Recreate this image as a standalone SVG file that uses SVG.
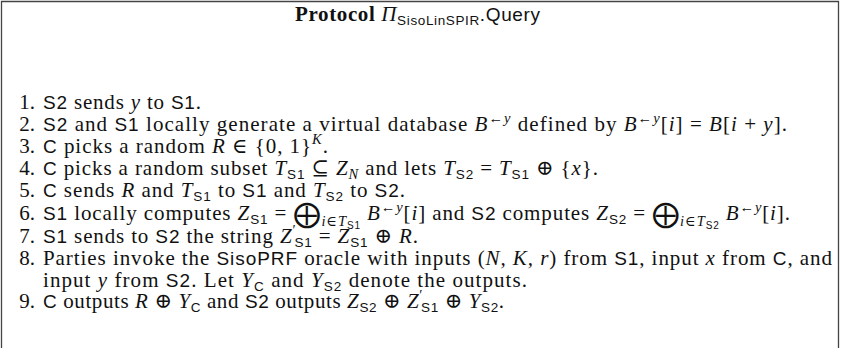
<svg xmlns="http://www.w3.org/2000/svg" width="841" height="348" viewBox="0 0 841 348">
<style>
.t{font-family:"Liberation Serif","DejaVu Serif",serif;font-size:21px;fill:#111}
.b{font-weight:bold}
.it{font-style:italic}
.sf{font-family:"Liberation Sans","DejaVu Sans",sans-serif;font-size:19px}
.s{font-family:"Liberation Sans","DejaVu Sans",sans-serif;font-size:13.5px}
.ss{font-family:"Liberation Sans","DejaVu Sans",sans-serif;font-size:10px}
.sm{font-size:14.5px}
.big{font-family:"DejaVu Sans",sans-serif;font-size:27px}
.frame{fill:none;stroke:#444;stroke-width:1.3}
</style>
<rect width="841" height="348" fill="#fff"/>
<g id="frame"><path class="frame" d="M1.5,348 V1.5 H838.5 V348"/></g>
<g id="title">
<text class="t" x="295" y="21" textLength="245" lengthAdjust="spacing"><tspan class="b">Protocol </tspan><tspan class="it">Π</tspan><tspan class="s" dy="4">SisoLinSPIR</tspan><tspan class="sf" dy="-4">.Query</tspan></text>
</g>
<g id="numbers" class="t" text-anchor="end">
<text x="35" y="109">1.</text>
<text x="35" y="131">2.</text>
<text x="35" y="153">3.</text>
<text x="35" y="175">4.</text>
<text x="35" y="197">5.</text>
<text x="35" y="220">6.</text>
<text x="35" y="243">7.</text>
<text x="35" y="265">8.</text>
<text x="35" y="308">9.</text>
</g>
<g id="steps" class="t">
<text id="s1" x="43" y="109" textLength="158" lengthAdjust="spacing"><tspan class="sf">S2</tspan> sends <tspan class="it">y</tspan> to <tspan class="sf">S1</tspan>.</text>
<text id="s2" x="43" y="131" textLength="744" lengthAdjust="spacing"><tspan class="sf">S2</tspan> and <tspan class="sf">S1</tspan> locally generate a virtual database <tspan class="it">B</tspan><tspan class="sm" dy="-8">←</tspan><tspan class="sm it">y</tspan><tspan dy="8"> defined by </tspan><tspan class="it">B</tspan><tspan class="sm" dy="-8">←</tspan><tspan class="sm it">y</tspan><tspan dy="8">[</tspan><tspan class="it">i</tspan>] = <tspan class="it">B</tspan>[<tspan class="it">i</tspan> + <tspan class="it">y</tspan>].</text>
<text id="s3" x="43" y="153" textLength="285" lengthAdjust="spacing"><tspan class="sf">C</tspan> picks a random <tspan class="it">R</tspan> ∈ {0, 1}<tspan class="sm it" dy="-9">K</tspan><tspan dy="9">.</tspan></text>
<text id="s4" x="43" y="175" textLength="555" lengthAdjust="spacing"><tspan class="sf">C</tspan> picks a random subset <tspan class="it">T</tspan><tspan class="s" dy="4">S1</tspan><tspan dy="-4"> ⊆ </tspan><tspan class="it">Z</tspan><tspan class="sm it" dy="4">N</tspan><tspan dy="-4"> and lets </tspan><tspan class="it">T</tspan><tspan class="s" dy="4">S2</tspan><tspan dy="-4"> = </tspan><tspan class="it">T</tspan><tspan class="s" dy="4">S1</tspan><tspan dy="-4"> ⊕ {</tspan><tspan class="it">x</tspan>}.</text>
<text id="s5" x="43" y="197" textLength="362" lengthAdjust="spacing"><tspan class="sf">C</tspan> sends <tspan class="it">R</tspan> and <tspan class="it">T</tspan><tspan class="s" dy="4">S1</tspan><tspan dy="-4"> to </tspan><tspan class="sf">S1</tspan> and <tspan class="it">T</tspan><tspan class="s" dy="4">S2</tspan><tspan dy="-4"> to </tspan><tspan class="sf">S2</tspan>.</text>
<text id="s6" x="43" y="220" textLength="747" lengthAdjust="spacing"><tspan class="sf">S1</tspan> locally computes <tspan class="it">Z</tspan><tspan class="s" dy="4">S1</tspan><tspan dy="-4"> = </tspan><tspan class="big" dy="3">⨁</tspan><tspan class="sm it" dy="3">i</tspan><tspan class="sm">∈</tspan><tspan class="sm it">T</tspan><tspan class="ss" dy="3">S1</tspan><tspan dy="-9"> </tspan><tspan class="it">B</tspan><tspan class="sm" dy="-8">←</tspan><tspan class="sm it">y</tspan><tspan dy="8">[</tspan><tspan class="it">i</tspan>] and <tspan class="sf">S2</tspan> computes <tspan class="it">Z</tspan><tspan class="s" dy="4">S2</tspan><tspan dy="-4"> = </tspan><tspan class="big" dy="3">⨁</tspan><tspan class="sm it" dy="3">i</tspan><tspan class="sm">∈</tspan><tspan class="sm it">T</tspan><tspan class="ss" dy="3">S2</tspan><tspan dy="-9"> </tspan><tspan class="it">B</tspan><tspan class="sm" dy="-8">←</tspan><tspan class="sm it">y</tspan><tspan dy="8">[</tspan><tspan class="it">i</tspan>].</text>
<text id="s7" x="43" y="243" textLength="375" lengthAdjust="spacing"><tspan class="sf">S1</tspan> sends to <tspan class="sf">S2</tspan> the string <tspan class="it">Z</tspan><tspan class="sm" dy="-8">′</tspan><tspan class="s" dy="12" dx="-2">S1</tspan><tspan dy="-4"> = </tspan><tspan class="it">Z</tspan><tspan class="s" dy="4">S1</tspan><tspan dy="-4"> ⊕ </tspan><tspan class="it">R</tspan>.</text>
<text id="s8" x="43" y="265" textLength="789" lengthAdjust="spacing">Parties invoke the <tspan class="sf">SisoPRF</tspan> oracle with inputs (<tspan class="it">N, K, r</tspan>) from <tspan class="sf">S1</tspan>, input <tspan class="it">x</tspan> from <tspan class="sf">C</tspan>, and</text>
<text id="s8b" x="43" y="287" textLength="484" lengthAdjust="spacing">input <tspan class="it">y</tspan> from <tspan class="sf">S2</tspan>. Let <tspan class="it">Y</tspan><tspan class="s" dy="4">C</tspan><tspan dy="-4"> and </tspan><tspan class="it">Y</tspan><tspan class="s" dy="4">S2</tspan><tspan dy="-4"> denote the outputs.</tspan></text>
<text id="s9" x="43" y="308" textLength="461" lengthAdjust="spacing"><tspan class="sf">C</tspan> outputs <tspan class="it">R</tspan> ⊕ <tspan class="it">Y</tspan><tspan class="s" dy="4">C</tspan><tspan dy="-4"> and </tspan><tspan class="sf">S2</tspan> outputs <tspan class="it">Z</tspan><tspan class="s" dy="4">S2</tspan><tspan dy="-4"> ⊕ </tspan><tspan class="it">Z</tspan><tspan class="sm" dy="-8">′</tspan><tspan class="s" dy="12" dx="-2">S1</tspan><tspan dy="-4"> ⊕ </tspan><tspan class="it">Y</tspan><tspan class="s" dy="4">S2</tspan><tspan dy="-4">.</tspan></text>
</g>
</svg>
